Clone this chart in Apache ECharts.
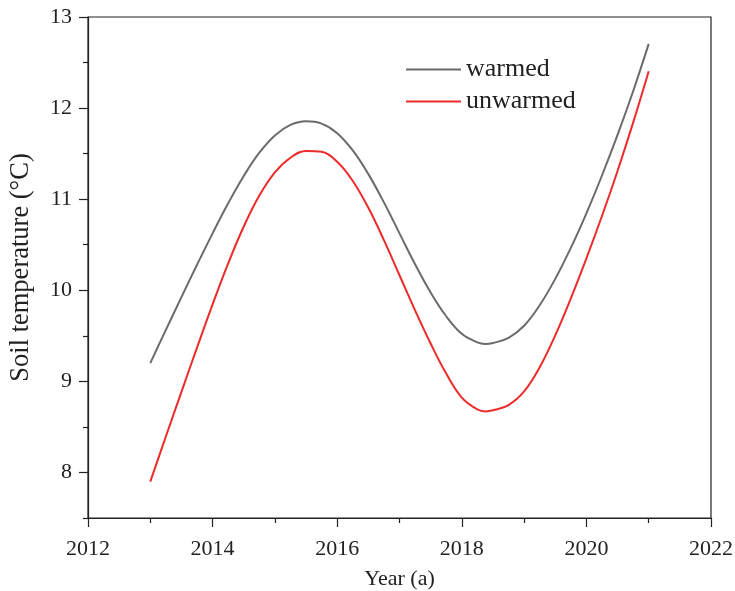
<!DOCTYPE html>
<html>
<head>
<meta charset="utf-8">
<script src="https://cdn.jsdelivr.net/npm/echarts@6/dist/echarts.min.js"></script>
<style>
html,body{margin:0;padding:0;background:#fff;}
#chart{width:735px;height:591px;}
</style>
</head>
<body>
<div id="chart"></div>
<script>
const years = [2013, 2013.25, 2013.5, 2013.75, 2014, 2014.25, 2014.5, 2014.75, 2015, 2015.25, 2015.5, 2015.75,
  2016, 2016.25, 2016.5, 2016.75, 2017, 2017.25, 2017.5, 2017.75, 2018, 2018.25, 2018.375, 2018.5, 2018.75,
  2019, 2019.25, 2019.5, 2019.75, 2020, 2020.25, 2020.5, 2020.75, 2021];
const warmed = [9.200, 9.565, 9.925, 10.280, 10.625, 10.955, 11.255, 11.510, 11.700, 11.815, 11.855, 11.830,
  11.725, 11.535, 11.275, 10.965, 10.625, 10.285, 9.975, 9.715, 9.522, 9.428, 9.411, 9.421, 9.478,
  9.610, 9.835, 10.125, 10.465, 10.845, 11.260, 11.705, 12.185, 12.705];
const unwarmed = [7.900, 8.395, 8.885, 9.370, 9.845, 10.295, 10.700, 11.040, 11.295, 11.455, 11.530, 11.520,
  11.410, 11.200, 10.905, 10.550, 10.165, 9.780, 9.415, 9.085, 8.822, 8.692, 8.670, 8.682, 8.740,
  8.890, 9.155, 9.505, 9.910, 10.350, 10.815, 11.310, 11.840, 12.405];
const xTickLabels = [2012, 2014, 2016, 2018, 2020, 2022];
const yTickLabels = [8, 9, 10, 11, 12, 13];
const yMinorTicks = [7.5, 8.5, 9.5, 10.5, 11.5, 12.5];
const seriesNames = ['warmed', 'unwarmed'];

const FONT = '"Liberation Serif", "Times New Roman", serif';
const AX = '#222';

const chart = echarts.init(document.getElementById('chart'), null, {renderer: 'canvas'});
chart.setOption({
  animation: false,
  backgroundColor: '#fff',
  grid: {left: 88, right: 24, top: 17, bottom: 73, containLabel: false, outerBoundsMode: 'none',
    show: true, borderColor: AX, borderWidth: 1.2, backgroundColor: 'transparent'},
  legend: {
    orient: 'vertical', left: 401, top: 51,
    itemWidth: 55, itemHeight: 2, itemGap: 5, icon: 'rect',
    textStyle: {fontFamily: FONT, fontSize: 26, color: '#222', lineHeight: 27, padding: [0,0,0,0]},
    data: seriesNames
  },
  xAxis: {
    type: 'value', min: 2012, max: 2022, interval: 2,
    name: 'Year (a)', nameLocation: 'middle', nameGap: 50,
    nameTextStyle: {fontFamily: FONT, fontSize: 22, color: '#222'},
    axisLine: {show: true, onZero: false, lineStyle: {color: AX, width: 1.2}},
    axisTick: {show: true, inside: false, length: 9, lineStyle: {color: AX, width: 1.2}},
    minorTick: {show: true, splitNumber: 2, length: 5, lineStyle: {color: AX, width: 1.2}},
    splitLine: {show: false},
    axisLabel: {fontFamily: FONT, fontSize: 22, color: '#222', margin: 20, customValues: xTickLabels, formatter: v => String(v)}
  },
  yAxis: [{
    type: 'value', min: 7.5, max: 13,
    name: 'Soil temperature (°C)', nameLocation: 'middle', nameGap: 53,
    nameTextStyle: {fontFamily: FONT, fontSize: 26.5, color: '#222'},
    axisLine: {show: true, onZero: false, lineStyle: {color: AX, width: 1.2}},
    axisTick: {show: true, inside: false, length: 9, customValues: yTickLabels, lineStyle: {color: AX, width: 1.2}},
    splitLine: {show: false},
    axisLabel: {fontFamily: FONT, fontSize: 22, color: '#222', margin: 16, customValues: yTickLabels, formatter: v => String(v)}
  }, {
    type: 'value', min: 7.5, max: 13, position: 'left',
    axisLine: {show: false},
    axisTick: {show: true, inside: false, length: 5, customValues: yMinorTicks, lineStyle: {color: AX, width: 1.2}},
    splitLine: {show: false},
    axisLabel: {show: false}
  }],
  series: [{
    name: seriesNames[0], type: 'line', smooth: 0.4, showSymbol: false, symbol: 'none',
    lineStyle: {color: '#6b6b6b', width: 2}, itemStyle: {color: '#6b6b6b'},
    data: years.map((y, i) => [y, warmed[i]])
  }, {
    name: seriesNames[1], type: 'line', smooth: 0.4, showSymbol: false, symbol: 'none',
    lineStyle: {color: '#ee2b2b', width: 2}, itemStyle: {color: '#ee2b2b'},
    data: years.map((y, i) => [y, unwarmed[i]])
  }]
});
</script>
</body>
</html>
